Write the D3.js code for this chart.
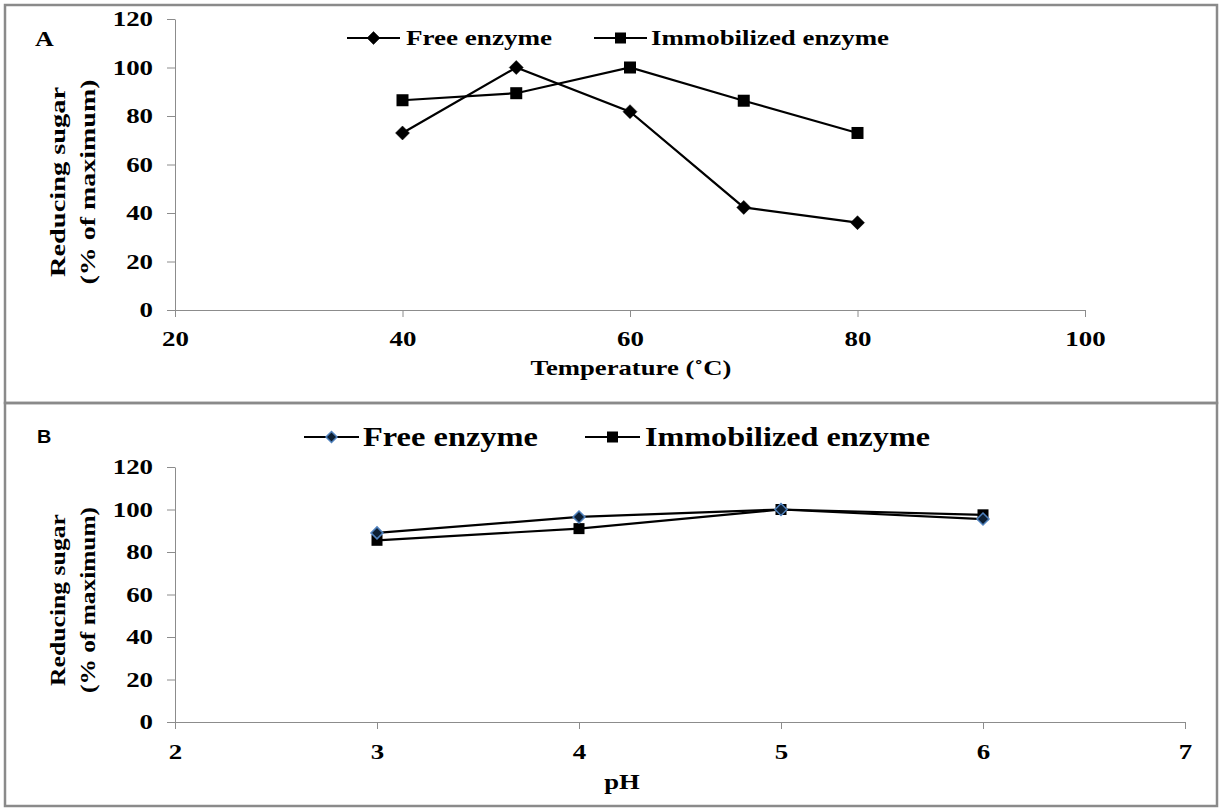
<!DOCTYPE html>
<html><head><meta charset="utf-8">
<script src="https://cdn.jsdelivr.net/npm/d3@7"></script>
<style>body{margin:0;background:#fff}svg{display:block}</style>
</head><body>
<svg id="c" width="1222" height="810"></svg>
<script>
// Panel A: temperature
const tempX = [40, 50, 60, 70, 80];
const tempFree = [73, 100, 81.8, 42.3, 36];
const tempImmob = [86.5, 89.4, 100, 86.3, 73];
const tempXTicks = [20, 40, 60, 80, 100];
// Panel B: pH
const phX = [3, 4, 5, 6];
const phFree = [89, 96.5, 100, 95.5];
const phImmob = [85.5, 91, 100, 97.5];
const phXTicks = [2, 3, 4, 5, 6, 7];
const yTicks = [0, 20, 40, 60, 80, 100, 120];
const seriesNames = ["Free enzyme", "Immobilized enzyme"];

const svg = d3.select("#c");
const serif = "'Liberation Serif','Times New Roman',serif";
const sans = "'Liberation Sans',Arial,sans-serif";

function stretch(sel, k){
  sel.each(function(){
    const n = this.getComputedTextLength();
    d3.select(this).attr("textLength", n*k).attr("lengthAdjust","spacingAndGlyphs");
  });
}

// panel frames
svg.append("rect").attr("x",5).attr("y",5).attr("width",1212).attr("height",398)
  .attr("fill","none").attr("stroke","#8a8a8a").attr("stroke-width",2.5);
svg.append("rect").attr("x",5).attr("y",403).attr("width",1212).attr("height",403)
  .attr("fill","none").attr("stroke","#8a8a8a").attr("stroke-width",2.5);

function panel(cfg){
  const x = d3.scaleLinear().domain(cfg.xDomain).range(cfg.xRange);
  const y = d3.scaleLinear().domain([0,120]).range(cfg.yRange);
  const g = svg.append("g");
  const ya = g.append("g").attr("transform",`translate(${cfg.xRange[0]},0)`)
    .call(d3.axisLeft(y).tickValues(yTicks).tickSize(8).tickPadding(14).tickSizeOuter(0));
  const xa = g.append("g").attr("transform",`translate(0,${cfg.yRange[0]})`)
    .call(d3.axisBottom(x).tickValues(cfg.xTicks).tickFormat(d3.format("d"))
      .tickSize(7).tickPadding(cfg.xPad).tickSizeOuter(0));
  [ya,xa].forEach(a=>{
    a.attr("font-family",null);
    a.selectAll("path,line").attr("stroke","#8c8c8c").attr("stroke-width",1);
    a.selectAll("text").style("font-family",serif).style("font-weight","bold")
      .style("font-size",cfg.tickFont+"px").attr("fill","#000");
    stretch(a.selectAll("text"), 1.28);
  });
  const line = d3.line().x(d=>x(d[0])).y(d=>y(d[1]));
  const fd = cfg.xs.map((v,i)=>[v,cfg.free[i]]);
  const id = cfg.xs.map((v,i)=>[v,cfg.imm[i]]);
  g.append("path").datum(id).attr("d",line).attr("fill","none").attr("stroke","#000").attr("stroke-width",2.2);
  g.append("path").datum(fd).attr("d",line).attr("fill","none").attr("stroke","#000").attr("stroke-width",2.2);
  const ds = cfg.dSize, ss = cfg.sSize;
  g.selectAll(".sq").data(id).join("rect")
    .attr("x",d=>x(d[0])-ss/2).attr("y",d=>y(d[1])-ss/2).attr("width",ss).attr("height",ss)
    .attr("fill","#000");
  g.selectAll(".dm").data(fd).join("path")
    .attr("d",d=>`M${x(d[0])},${y(d[1])-ds/2}L${x(d[0])+ds/2},${y(d[1])}L${x(d[0])},${y(d[1])+ds/2}L${x(d[0])-ds/2},${y(d[1])}Z`)
    .attr("fill",cfg.dFill).attr("stroke",cfg.dStroke).attr("stroke-width",cfg.dStrokeW);
  // y title
  [["Reducing sugar",cfg.yt1,cfg.ytLen[0]],["(% of maximum)",cfg.yt2,cfg.ytLen[1]]].forEach(([t,xx,len])=>{
    g.append("text").attr("transform",`translate(${xx},${cfg.ytCy}) rotate(-90)`)
      .attr("text-anchor","middle").attr("dominant-baseline","central")
      .style("font-family",serif).style("font-weight","bold").style("font-size",cfg.titleFont+"px")
      .attr("textLength",len).attr("lengthAdjust","spacingAndGlyphs")
      .text(t);
  });
  // x title
  const xt = g.append("text").attr("x",cfg.xtX).attr("y",cfg.xtY).attr("text-anchor","middle")
    .attr("dominant-baseline","central")
    .style("font-family",serif).style("font-weight","bold").style("font-size",cfg.titleFont+"px")
    .text(cfg.xTitle);
  stretch(xt, 1.27);
  // legend
  const L = cfg.leg;
  seriesNames.forEach((nm,i)=>{
    const lx = L.lineX[i], ly = L.y;
    g.append("line").attr("x1",lx).attr("x2",lx+L.lineW).attr("y1",ly).attr("y2",ly)
      .attr("stroke","#000").attr("stroke-width",2.2);
    const mx = lx+L.lineW/2;
    if(i===0){
      const s=L.dSize;
      g.append("path").attr("d",`M${mx},${ly-s/2}L${mx+s/2},${ly}L${mx},${ly+s/2}L${mx-s/2},${ly}Z`)
        .attr("fill",cfg.dFill).attr("stroke",cfg.dStroke).attr("stroke-width",cfg.dStrokeW);
    } else {
      const s=L.sSize;
      g.append("rect").attr("x",mx-s/2).attr("y",ly-s/2).attr("width",s).attr("height",s).attr("fill","#000");
    }
    g.append("text").attr("x",L.textX[i]).attr("y",ly).attr("dominant-baseline","central")
      .style("font-family",serif).style("font-weight","bold").style("font-size",L.font+"px")
      .attr("textLength",L.textLen[i]).attr("lengthAdjust","spacingAndGlyphs")
      .text(nm);
  });
  const lab = g.append("text").attr("x",cfg.lab.x).attr("y",cfg.lab.y)
    .style("font-family",cfg.lab.family).style("font-weight","bold").style("font-size",cfg.lab.size+"px")
    .text(cfg.lab.t);
  stretch(lab, cfg.lab.k);
}

panel({
  xDomain:[20,100], xRange:[175,1085], yRange:[310,19], xTicks:tempXTicks,
  xs:tempX, free:tempFree, imm:tempImmob, xPad:14, tickFont:21, titleFont:21,
  dSize:14, sSize:12, dFill:"#000", dStroke:"#000", dStrokeW:0.5,
  yt1:58, yt2:88, ytCy:182, ytLen:[190,205], xTitle:"Temperature (˚C)", xtX:631, xtY:368,
  leg:{y:38, lineX:[347,594], lineW:53, textX:[406,651], textLen:[146,238], font:21, dSize:13, sSize:11},
  lab:{x:35, y:46, t:"A", family:serif, size:20, k:1.3}
});
panel({
  xDomain:[2,7], xRange:[175,1185], yRange:[722,467], xTicks:phXTicks,
  xs:phX, free:phFree, imm:phImmob, xPad:15, tickFont:21, titleFont:21,
  dSize:12, sSize:11, dFill:"#0d1f33", dStroke:"#4f81bd", dStrokeW:1.5,
  yt1:58, yt2:88, ytCy:600, ytLen:[172,186], xTitle:"pH", xtX:622, xtY:782,
  leg:{y:437, lineX:[304,585], lineW:55, textX:[363,645], textLen:[175,285], font:27, dSize:11, sSize:11},
  lab:{x:37, y:443, t:"B", family:sans, size:18, k:1.1}
});
</script>
</body></html>
